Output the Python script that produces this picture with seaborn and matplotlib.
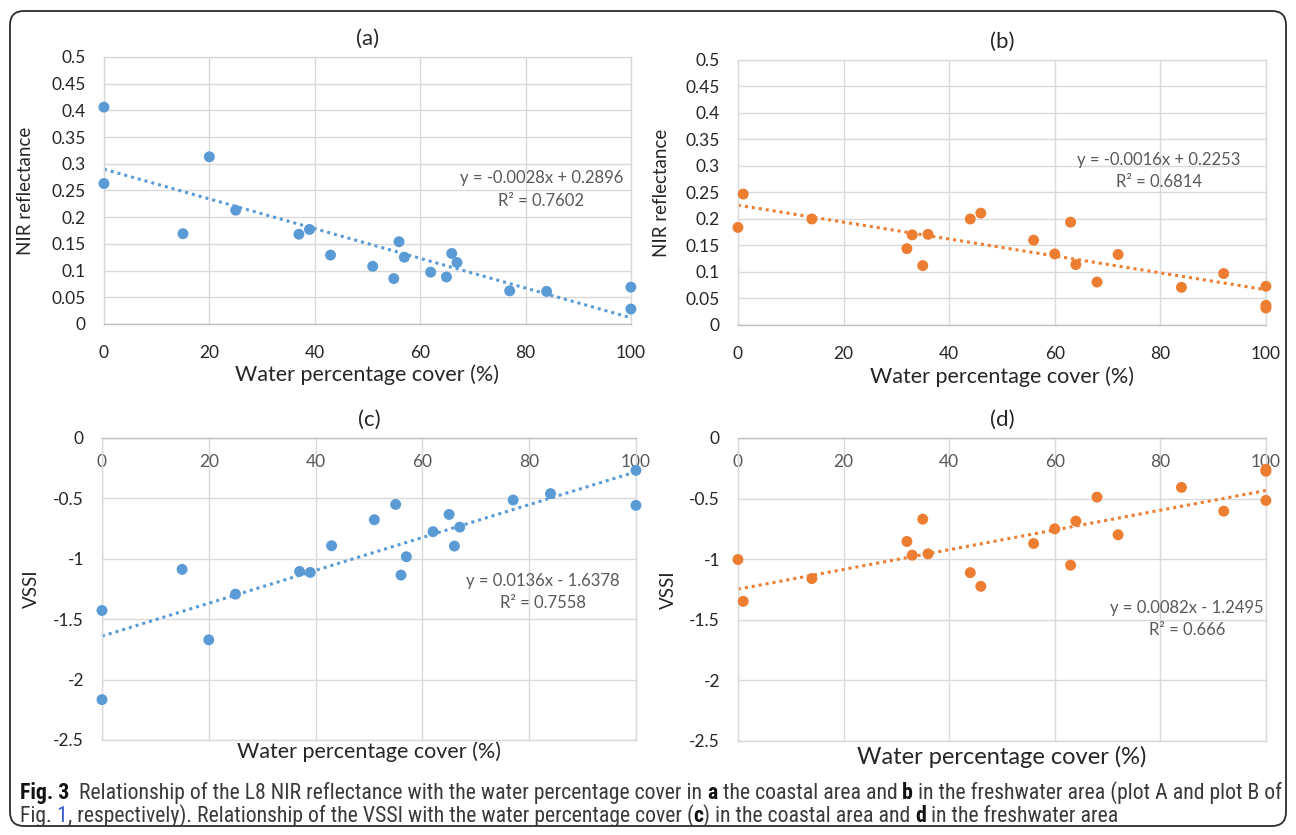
import matplotlib
matplotlib.use("Agg")
import matplotlib.pyplot as plt
import matplotlib.patches as mpatches
from matplotlib.transforms import IdentityTransform
from matplotlib.ticker import FuncFormatter, MultipleLocator
import seaborn as sns
import pandas as pd

# Coastal area (plot A) -> panels (a) and (c)
coastal_water = [0, 0, 15, 20, 25, 37, 39, 43, 51, 55, 56, 57, 62, 65, 66, 67, 77, 84, 100, 100]
coastal_nir = [0.406, 0.263, 0.169, 0.313, 0.213, 0.168, 0.177, 0.129, 0.108, 0.085,
               0.154, 0.125, 0.097, 0.088, 0.132, 0.115, 0.062, 0.061, 0.069, 0.028]
coastal_vssi = [-1.428, -2.166, -1.088, -1.671, -1.293, -1.105, -1.113, -0.892, -0.677, -0.550,
                -1.135, -0.983, -0.776, -0.633, -0.895, -0.738, -0.514, -0.461, -0.268, -0.558]

# Freshwater area (plot B) -> panels (b) and (d)
fresh_water = [0, 1, 14, 32, 33, 35, 36, 44, 46, 56, 60, 63, 64, 68, 72, 84, 92, 100, 100, 100]
fresh_nir = [0.184, 0.247, 0.200, 0.144, 0.170, 0.112, 0.171, 0.200, 0.211, 0.160,
             0.134, 0.194, 0.114, 0.081, 0.133, 0.071, 0.097, 0.073, 0.037, 0.032]
fresh_vssi = [-1.003, -1.348, -1.160, -0.854, -0.967, -0.670, -0.956, -1.111, -1.224, -0.871,
              -0.750, -1.050, -0.686, -0.488, -0.799, -0.408, -0.604, -0.259, -0.275, -0.515]

# trendline labels as printed on the chart
equations = ["y = -0.0028x + 0.2896", "y = -0.0016x + 0.2253",
             "y = 0.0136x - 1.6378", "y = 0.0082x - 1.2495"]
r_squared = ["R² = 0.7602", "R² = 0.6814", "R² = 0.7558", "R² = 0.666"]

coastal = pd.DataFrame({'water': coastal_water, 'nir': coastal_nir, 'vssi': coastal_vssi})
fresh = pd.DataFrame({'water': fresh_water, 'nir': fresh_nir, 'vssi': fresh_vssi})

BLUE = '#5B9BD5'
ORANGE = '#ED7D31'
GRID = '#d9d9d9'

sns.set_theme(style="white")
plt.rcParams['font.family'] = ['Lato', 'DejaVu Sans']
plt.rcParams['axes.unicode_minus'] = False

fig = plt.figure(figsize=(12.96, 8.35), dpi=100)

panels = [
    dict(df=coastal, y='nir', color=BLUE, title='(a)', ylabel='NIR reflectance',
         rect=[0.0802, 0.612, 0.4066, 0.3198], ylim=(0, 0.5), step=0.05, top_axis=False,
         eq=(83, 0.273), r2=(83, 0.231), ylab_x=-0.133, xlab_y=-0.19, xlab_size=15.5),
    dict(df=fresh, y='nir', color=ORANGE, title='(b)', ylabel='NIR reflectance',
         rect=[0.5694, 0.6108, 0.4074, 0.3174], ylim=(0, 0.5), step=0.05, top_axis=False,
         eq=(79.6, 0.312), r2=(79.7, 0.270), ylab_x=-0.129, xlab_y=-0.196, xlab_size=15.5),
    dict(df=coastal, y='vssi', color=BLUE, title='(c)', ylabel='VSSI',
         rect=[0.0787, 0.1138, 0.412, 0.3617], ylim=(-2.5, 0), step=0.5, top_axis=True,
         eq=(82.6, -1.18), r2=(82.6, -1.365), ylab_x=-0.116, xlab_y=-0.04, xlab_size=15.5),
    dict(df=fresh, y='vssi', color=ORANGE, title='(d)', ylabel='VSSI',
         rect=[0.5694, 0.1126, 0.4074, 0.3629], ylim=(-2.5, 0), step=0.5, top_axis=True,
         eq=(85, -1.403), r2=(85, -1.585), ylab_x=-0.116, xlab_y=-0.053, xlab_size=17),
]

fmt = FuncFormatter(lambda v, p: f'{v:g}' if abs(v) > 1e-9 else '0')

for i, p in enumerate(panels):
    ax = fig.add_axes(p['rect'])
    sns.regplot(data=p['df'], x='water', y=p['y'], ax=ax, scatter=False, ci=None,
                color=p['color'], line_kws=dict(ls=(0, (1, 1.3)), lw=2.2, clip_on=False))
    sns.scatterplot(data=p['df'], x='water', y=p['y'], ax=ax, color=p['color'], s=62,
                    edgecolor='none', clip_on=False, zorder=3)
    ax.set_xlim(0, 100)
    ax.set_ylim(*p['ylim'])
    ax.xaxis.set_major_locator(MultipleLocator(20))
    ax.yaxis.set_major_locator(MultipleLocator(p['step']))
    ax.yaxis.set_major_formatter(fmt)
    ax.grid(True, color=GRID, lw=1)
    ax.set_axisbelow(True)
    for s in ax.spines.values():
        s.set_color(GRID)
        s.set_linewidth(1)
    ax.tick_params(axis='y', length=0, pad=13, labelsize=12.5, labelcolor='#262626')
    if p['top_axis']:
        ax.spines['top'].set_color('#bfbfbf')
        ax.tick_params(axis='x', length=0, top=False, bottom=False, labeltop=True,
                       labelbottom=False, pad=-23, labelsize=12.5, labelcolor='#595959')
    else:
        ax.spines['bottom'].set_color('#bfbfbf')
        ax.tick_params(axis='x', length=0, pad=15, labelsize=12.5, labelcolor='#262626')
    ax.set_title(p['title'], fontsize=16, pad=9, color='#262626')
    ax.set_xlabel('Water percentage cover (%)', fontsize=p['xlab_size'], color='#262626')
    ax.xaxis.label.set_va('center')
    ax.xaxis.set_label_coords(0.5, p['xlab_y'])
    ax.set_ylabel(p['ylabel'], fontsize=13.5, color='#262626')
    ax.yaxis.set_label_coords(p['ylab_x'], 0.5)
    ax.text(*p['eq'], equations[i], ha='center', va='center', fontsize=12, color='#595959')
    ax.text(*p['r2'], r_squared[i], ha='center', va='center', fontsize=12, color='#595959')

# rounded frame around the whole figure
frame = mpatches.FancyBboxPatch((10, 9), 1276, 815, boxstyle="round,pad=0,rounding_size=14",
                                transform=IdentityTransform(), fill=False, ec='#2b2b2b', lw=1.3)
fig.add_artist(frame)

# caption with mixed bold / coloured runs
cap_family = ['Liberation Sans Narrow', 'Roboto Condensed', 'Open Sans Condensed', 'Roboto', 'DejaVu Sans']
line1 = [("Fig. 3", 'bold', '#111111'),
         ("  Relationship of the L8 NIR reflectance with the water percentage cover in ", 'normal', '#3a3a3a'),
         ("a", 'bold', '#111111'),
         (" the coastal area and ", 'normal', '#3a3a3a'),
         ("b", 'bold', '#111111'),
         (" in the freshwater area (plot A and plot B of", 'normal', '#3a3a3a')]
line2 = [("Fig. ", 'normal', '#3a3a3a'),
         ("1", 'normal', '#3a5fcd'),
         (", respectively). Relationship of the VSSI with the water percentage cover (", 'normal', '#3a3a3a'),
         ("c", 'bold', '#111111'),
         (") in the coastal area and ", 'normal', '#3a3a3a'),
         ("d", 'bold', '#111111'),
         (" in the freshwater area", 'normal', '#3a3a3a')]

renderer = fig.canvas.get_renderer()


def run_width(text, weight, size):
    t = fig.text(0, 0, '|' + text + '|', fontsize=size, fontweight=weight, family=cap_family)
    w = t.get_window_extent(renderer).width
    t.remove()
    t = fig.text(0, 0, '||', fontsize=size, fontweight=weight, family=cap_family)
    w -= t.get_window_extent(renderer).width
    t.remove()
    return w


base = 12
total = sum(run_width(t, w, base) for t, w, c in line1)
cap_size = base * 1259 / total


def draw_line(runs, y):
    x = 20
    for text, weight, color in runs:
        fig.text(x, y, text, fontsize=cap_size, fontweight=weight, color=color,
                 family=cap_family, transform=IdentityTransform(), va='baseline')
        x += run_width(text, weight, cap_size)


draw_line(line1, 36)
draw_line(line2, 13)

fig.savefig('out.png', dpi=100)
